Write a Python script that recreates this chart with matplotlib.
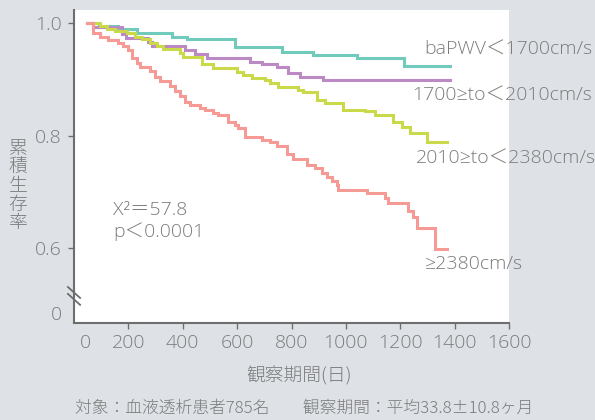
import numpy as np
import matplotlib
matplotlib.use("Agg")
import matplotlib.pyplot as plt

plt.rcParams["font.family"] = ["Open Sans", "Noto Sans CJK JP", "DejaVu Sans"]
plt.rcParams["font.weight"] = "light"

# Kaplan-Meier steps (day of drop, survival after drop)
teal_days = [46, 93, 163, 233, 362, 417, 593, 766, 880, 1041, 1214]
teal_surv = [1.0, 0.995, 0.991, 0.983, 0.976, 0.972, 0.958, 0.950, 0.943, 0.938, 0.924]
teal_end = 1384

purple_days = [46, 71, 178, 193, 273, 288, 410, 446, 490, 648, 693, 748, 788, 832, 917]
purple_surv = [1.0, 0.993, 0.981, 0.974, 0.967, 0.960, 0.953, 0.946, 0.939, 0.932,
               0.927, 0.922, 0.911, 0.905, 0.899]
purple_end = 1384

yellow_days = [46, 97, 123, 152, 196, 226, 251, 281, 307, 329, 391, 402, 472, 512, 601,
               623, 656, 703, 722, 751, 825, 843, 895, 924, 990, 1071, 1108, 1174, 1207,
               1237, 1299]
yellow_surv = [1.0, 0.996, 0.991, 0.987, 0.983, 0.976, 0.972, 0.965, 0.959, 0.954, 0.947,
               0.940, 0.927, 0.920, 0.914, 0.909, 0.903, 0.899, 0.894, 0.887, 0.881, 0.877,
               0.864, 0.859, 0.846, 0.844, 0.837, 0.825, 0.816, 0.804, 0.788]
yellow_end = 1373

salmon_days = [46, 71, 97, 126, 163, 182, 200, 215, 233, 244, 281, 299, 318, 354, 373,
               391, 410, 428, 465, 483, 512, 531, 568, 593, 604, 630, 693, 722, 748, 784,
               806, 858, 887, 913, 931, 950, 968, 972, 1078, 1144, 1155, 1229, 1247, 1262,
               1328]
salmon_surv = [1.0, 0.983, 0.976, 0.971, 0.965, 0.959, 0.953, 0.938, 0.929, 0.923, 0.915,
               0.905, 0.898, 0.889, 0.880, 0.870, 0.860, 0.855, 0.849, 0.845, 0.840, 0.837,
               0.825, 0.819, 0.813, 0.797, 0.793, 0.788, 0.781, 0.767, 0.759, 0.748, 0.742,
               0.734, 0.727, 0.720, 0.712, 0.703, 0.698, 0.688, 0.680, 0.665, 0.655, 0.635,
               0.598]
salmon_end = 1373

x_ticks = [42, 200, 400, 600, 800, 1000, 1200, 1400, 1600]
x_labels = ["0", "200", "400", "600", "800", "1000", "1200", "1400", "1600"]
y_ticks = [0.484, 0.6, 0.8, 1.0]
y_labels = ["0", "0.6", "0.8", "1.0"]

bg = "#dee2e7"
txt = "#7b7b7b"
spine = "#6e6e6e"

fig = plt.figure(figsize=(5.95, 4.2), dpi=100, facecolor=bg)
ax = fig.add_axes([74 / 595, 1 - 323 / 420, 435 / 595, 313 / 420])
ax.set_facecolor("white")

series = [
    (teal_days, teal_surv, teal_end, "#70cbbd"),
    (purple_days, purple_surv, purple_end, "#bb89c3"),
    (yellow_days, yellow_surv, yellow_end, "#cad94a"),
    (salmon_days, salmon_surv, salmon_end, "#f69a96"),
]
for d, s, end, col in series:
    ax.step(np.append(d, end), np.append(s, s[-1]), where="post",
            color=col, lw=2.2, solid_joinstyle="miter")

ax.set_xlim(0, 1600)
ax.set_ylim(0.466, 1.024)
for side in ("top", "right"):
    ax.spines[side].set_visible(False)
for side in ("left", "bottom"):
    ax.spines[side].set_color(spine)
    ax.spines[side].set_linewidth(1.5)

ax.set_xticks(x_ticks, x_labels)
ax.set_yticks(y_ticks, y_labels)
ax.tick_params(colors=spine, labelcolor=txt, labelsize=14, length=4, width=1)
ax.tick_params(axis="x", pad=4)
ax.tick_params(axis="y", pad=5)
ax.xaxis.get_major_ticks()[0].tick1line.set_visible(False)
ax.yaxis.get_major_ticks()[0].tick1line.set_visible(False)

# axis break marks
for off in (0.0, 0.022):
    ax.plot([-0.014, 0.014], [0.095 - off + 0.02, 0.095 - off - 0.015],
            transform=ax.transAxes, color=spine, lw=1.3, clip_on=False)

cjk = ["Noto Sans CJK JP", "DejaVu Sans"]
fig.text(18 / 595, 1 - 186 / 420, "\n".join("累積生存率"), color=txt, fontsize=13.5,
         family=cjk, ha="center", va="center", linespacing=1.05)
fig.text(299 / 595, 1 - 376 / 420, "観察期間(日)", color=txt, fontsize=13.5,
         family=cjk, ha="center", va="center")
fig.text(75 / 595, 1 - 408 / 420,
         "対象：血液透析患者785名　　観察期間：平均33.8±10.8ヶ月",
         color=txt, fontsize=12.1, family=cjk, ha="left", va="center")

fig.text(592 / 595, 1 - 50 / 420, "baPWV＜1700cm/s", color=txt, fontsize=14,
         ha="right", va="center")
fig.text(592 / 595, 1 - 96 / 420, "1700≥to＜2010cm/s", color=txt, fontsize=14,
         ha="right", va="center")
fig.text(596 / 595, 1 - 159 / 420, "2010≥to＜2380cm/s", color=txt, fontsize=14,
         ha="right", va="center")
fig.text(425 / 595, 1 - 264 / 420, "≥2380cm/s", color=txt, fontsize=14,
         ha="left", va="center")
fig.text(113 / 595, 1 - 210 / 420, "X²＝57.8", color=txt, fontsize=14,
         ha="left", va="center")
fig.text(113 / 595, 1 - 232 / 420, "p＜0.0001", color=txt, fontsize=14,
         ha="left", va="center")

fig.savefig("out.png", dpi=100, facecolor=bg)
